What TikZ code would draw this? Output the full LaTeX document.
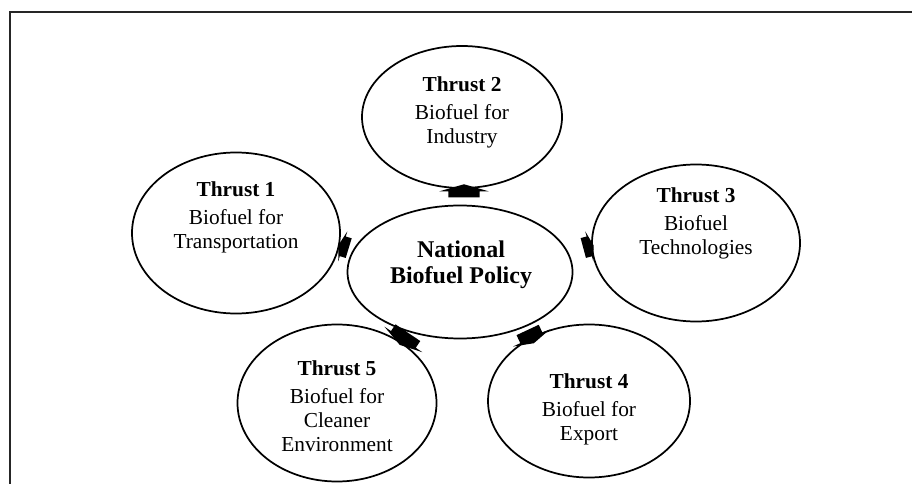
\documentclass[tikz,border=0pt]{standalone}
\usepackage{fontspec}
\setmainfont{Liberation Serif}
\usetikzlibrary{shapes.geometric,shapes.arrows}
\begin{document}
\begin{tikzpicture}[x=0.75pt,y=-0.75pt,
  oval/.style={draw,ellipse,line width=1.3pt,inner sep=0pt},
  words/.style={align=center,font=\fontsize{16}{18}\selectfont},
  hub/.style={align=center,font=\fontsize{18}{19.5}\selectfont\bfseries},
  blockarrow/.style={single arrow,fill=black,draw=none,inner sep=0pt,inner ysep=#1,
    minimum height=9.75pt,single arrow head extend=6.5pt,single arrow tip angle=148}]
\useasboundingbox (0,0) rectangle (912,484);
\draw[line width=1.5pt,black!85] (10,484) -- (10,12) -- (912,12);
\node[oval,minimum width=225*0.75pt,minimum height=133*0.75pt] (hubo) at (460,272) {};
\node[oval,minimum width=200*0.75pt,minimum height=142*0.75pt] (t2) at (462,117) {};
\node[oval,minimum width=208*0.75pt,minimum height=161*0.75pt] (t1) at (236,233) {};
\node[oval,minimum width=208*0.75pt,minimum height=157*0.75pt] (t3) at (696,243) {};
\node[oval,minimum width=199*0.75pt,minimum height=157*0.75pt] (t5) at (337,403) {};
\node[oval,minimum width=202*0.75pt,minimum height=153*0.75pt] (t4) at (589,401) {};
\node[hub] (hubl) at (461,265) {National\\Biofuel Policy};
\node[words] (t2l) at (462,112) {\textbf{Thrust 2}\\[3pt]Biofuel for\\Industry};
\node[words] (t1l) at (236,217) {\textbf{Thrust 1}\\[3pt]Biofuel for\\Transportation};
\node[words] (t3l) at (696,223) {\textbf{Thrust 3}\\[3pt]Biofuel\\Technologies};
\node[words] (t5l) at (337,406) {\textbf{Thrust 5}\\[3pt]Biofuel for\\Cleaner\\Environment};
\node[words] (t4l) at (589,409) {\textbf{Thrust 4}\\[3pt]Biofuel for\\Export};
\node[blockarrow=11.5pt,rotate=90,single arrow head extend=6.75pt] (a2) at (464,193) {};
\node[blockarrow=7.5pt,rotate=163,minimum height=8pt,single arrow head extend=4pt] (a1) at (345,247) {};
\node[blockarrow=7.5pt,rotate=15,minimum height=8pt,single arrow head extend=4pt] (a3) at (587,247) {};
\node[blockarrow=11pt,rotate=236,minimum height=11pt,single arrow head extend=6pt] (a5) at (405,337) {};
\node[blockarrow=9pt,rotate=295,minimum height=11pt,single arrow head extend=6pt] (a4) at (530,335) {};
\end{tikzpicture}
\end{document}
